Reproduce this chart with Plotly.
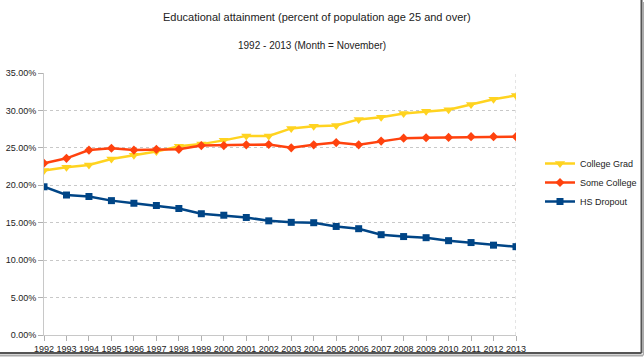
import plotly.graph_objects as go

years = list(range(1992, 2014))
college_grad = [21.97, 22.4, 22.7, 23.5, 24.0, 24.5, 25.2, 25.5, 26.0, 26.6, 26.6, 27.6, 27.9,
                28.0, 28.8, 29.1, 29.6, 29.9, 30.1, 30.8, 31.5, 32.0]
some_college = [22.95, 23.6, 24.7, 24.95, 24.7, 24.8, 24.8, 25.3, 25.3, 25.4, 25.45, 25.0, 25.4,
                25.7, 25.4, 25.9, 26.3, 26.35, 26.4, 26.5, 26.5, 26.5]
hs_dropout = [19.8, 18.7, 18.5, 17.95, 17.6, 17.3, 16.9, 16.2, 16.0, 15.7, 15.25, 15.05, 15.0,
              14.5, 14.2, 13.4, 13.15, 13.0, 12.6, 12.35, 12.0, 11.8]
y_ticks = [0, 5, 10, 15, 20, 25, 30, 35]

W, H = 644, 358
L, R, T, B = 44, 128, 73, 23
pw, ph = W - L - R, H - T - B


def px(x):
    return (x - L) / pw


def py(y):
    return (H - B - y) / ph


font = "Liberation Sans, Arial, sans-serif"
fig = go.Figure()
series = [
    ("College Grad", college_grad, "#ffd320", "triangle-down", 9),
    ("Some College", some_college, "#ff420e", "diamond", 7),
    ("HS Dropout", hs_dropout, "#004586", "square", 7),
]
for name, vals, col, sym, sz in series:
    fig.add_trace(go.Scatter(
        x=years, y=vals, name=name, mode="lines+markers",
        line=dict(color=col, width=2.5),
        marker=dict(symbol=sym, size=sz, color=col, line=dict(width=0)),
    ))

shapes = [
    dict(type="line", xref="x", yref="y", x0=2013, x1=2013, y0=0, y1=35,
         line=dict(color="#c8c8c8", width=1, dash="dot"), layer="below"),
    dict(type="line", xref="paper", yref="paper", x0=px(0), x1=px(641.5), y0=py(353), y1=py(353),
         line=dict(color="#555555", width=2)),
    dict(type="line", xref="paper", yref="paper", x0=px(641.5), x1=px(641.5), y0=py(0), y1=py(353),
         line=dict(color="#555555", width=2)),
    dict(type="line", xref="paper", yref="paper", x0=px(0), x1=px(643), y0=py(355.5), y1=py(355.5),
         line=dict(color="#aaaaaa", width=2)),
    dict(type="line", xref="paper", yref="paper", x0=px(643.5), x1=px(643.5), y0=py(2), y1=py(355.5),
         line=dict(color="#aaaaaa", width=1.5)),
]

fig.update_layout(
    width=W, height=H,
    margin=dict(l=L, r=R, t=T, b=B, autoexpand=False),
    paper_bgcolor="white", plot_bgcolor="white",
    font=dict(family=font, size=10, color="#333333"),
    showlegend=True,
    legend=dict(xref="container", yref="container", x=540 / W, y=1 - 149 / H,
                xanchor="left", yanchor="top",
                font=dict(family=font, size=9, color="#222222"),
                tracegroupgap=0, itemwidth=30, bgcolor="rgba(0,0,0,0)"),
    shapes=shapes,
    annotations=[
        dict(text="Educational attainment (percent of population age 25 and over)",
             xref="paper", yref="paper", x=px(317), y=py(17), showarrow=False,
             xanchor="center", yanchor="middle",
             font=dict(family=font, size=11, color="#222222")),
        dict(text="1992 - 2013 (Month = November)",
             xref="paper", yref="paper", x=px(312), y=py(45), showarrow=False,
             xanchor="center", yanchor="middle",
             font=dict(family=font, size=10, color="#222222")),
    ],
)
fig.update_xaxes(
    range=[1992, 2013], tickmode="array", tickvals=years, ticktext=[str(y) for y in years],
    showgrid=False, zeroline=False, showline=True, linecolor="#c8c8c8", linewidth=1,
    ticks="outside", ticklen=5, tickcolor="#b0b0b0", automargin=False,
    tickfont=dict(family=font, size=9, color="#222222"), tickangle=0,
)
fig.update_yaxes(
    range=[0, 35], tickvals=y_ticks, ticktext=[f"{v:.2f}%" for v in y_ticks],
    showgrid=True, gridcolor="#c8c8c8", griddash="dot", gridwidth=1,
    zeroline=False, showline=True, linecolor="#c8c8c8", linewidth=1,
    ticks="outside", ticklen=5, tickcolor="#b0b0b0", automargin=False,
    tickfont=dict(family=font, size=9, color="#222222"),
)
fig.write_html("out.html", config={"displayModeBar": False},
               post_script="document.body.style.margin='0';document.body.style.overflow='hidden';")
